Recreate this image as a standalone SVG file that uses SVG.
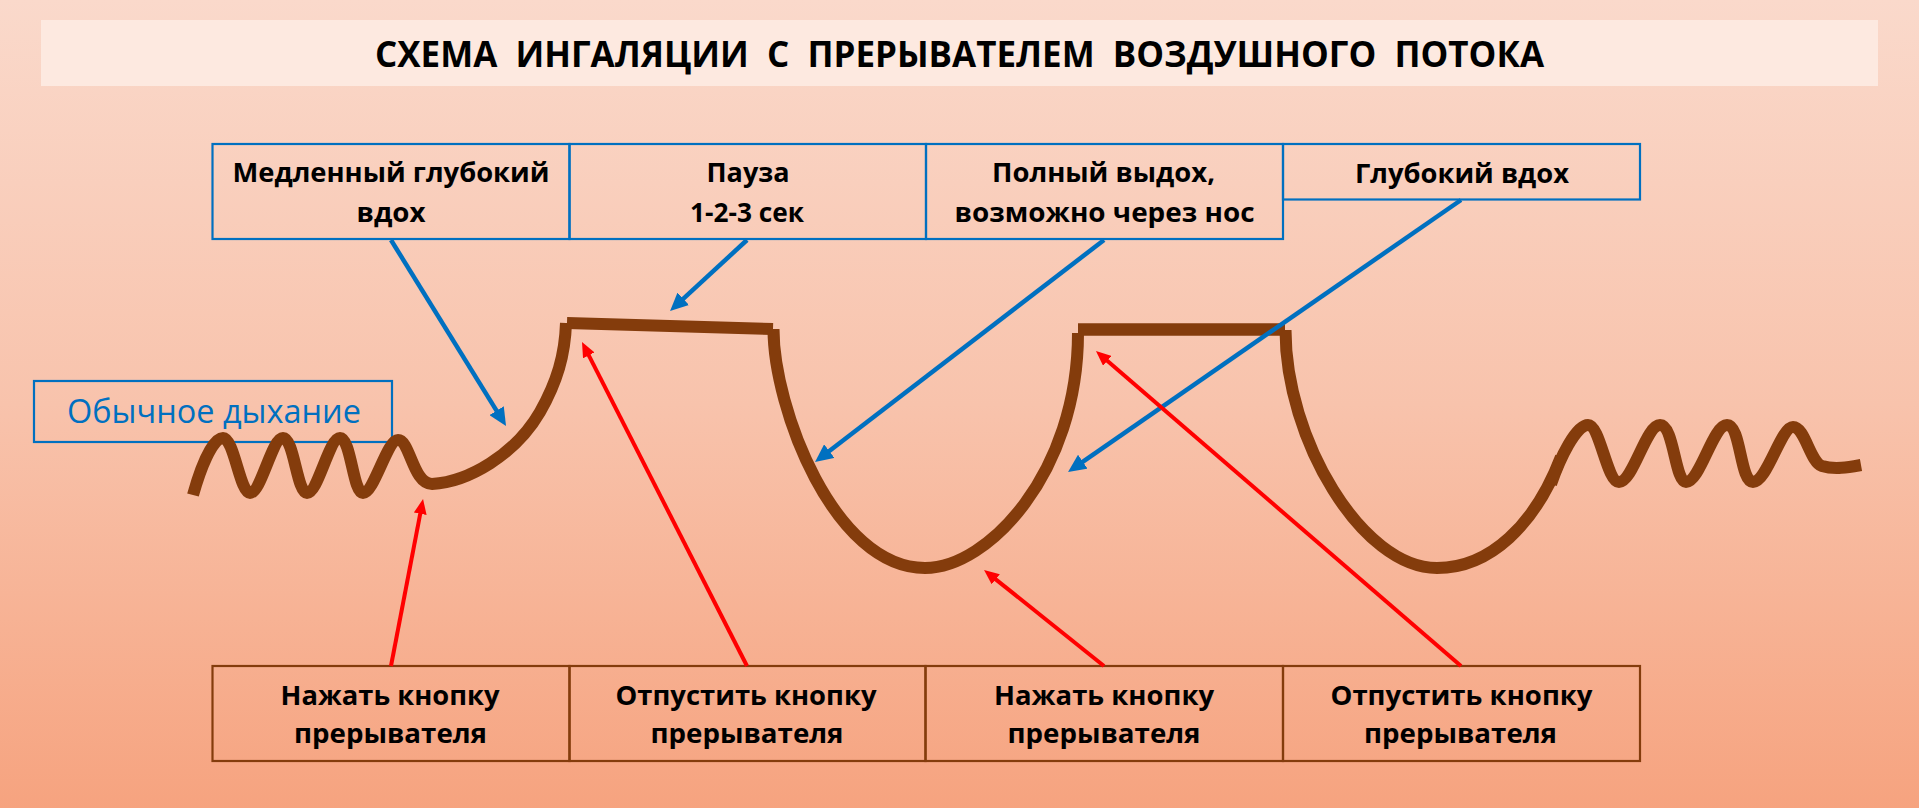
<svg xmlns="http://www.w3.org/2000/svg" width="1919" height="808" viewBox="0 0 1919 808">
<defs>
<linearGradient id="bg" x1="0" y1="0" x2="0" y2="1">
<stop offset="0" stop-color="#FAD9CB"/>
<stop offset="0.5" stop-color="#F8C3AC"/>
<stop offset="1" stop-color="#F6A37F"/>
</linearGradient>
<marker id="ab" markerUnits="userSpaceOnUse" markerWidth="18" markerHeight="17" viewBox="0 0 18 17" refX="2" refY="8.5" orient="auto">
<path d="M0,0 L18,8.5 L0,17 z" fill="#0070C0"/>
</marker>
<marker id="ar" markerUnits="userSpaceOnUse" markerWidth="15" markerHeight="13" viewBox="0 0 15 13" refX="2" refY="6.5" orient="auto">
<path d="M0,0 L15,6.5 L0,13 z" fill="#FF0000"/>
</marker>
</defs>
<style>
.t{font-family:"Open Sans","Noto Sans","Liberation Sans",sans-serif;font-weight:700;font-size:27px;fill:#000;text-anchor:middle}
.bb{fill:none;stroke:#0070C0;stroke-width:2.2}
.br{fill:none;stroke:#843C0C;stroke-width:2.2}
.curve{fill:none;stroke:#843C0C;stroke-width:12;stroke-linejoin:round;stroke-linecap:butt}
.blue{fill:none;stroke:#0070C0;stroke-width:4.5}
.red{fill:none;stroke:#FF0000;stroke-width:4}
</style>
<rect width="1919" height="808" fill="url(#bg)"/>
<g id="title">
<rect x="41" y="20" width="1837" height="66" fill="#FDE9E0"/>
<text x="959.5" y="67" class="t" style="font-size:36px;white-space:pre" xml:space="preserve" textLength="1169" lengthAdjust="spacingAndGlyphs">СХЕМА  ИНГАЛЯЦИИ  С  ПРЕРЫВАТЕЛЕМ  ВОЗДУШНОГО  ПОТОКА</text>
</g>
<g id="top1">
<rect x="212.5" y="144" width="357" height="95" class="bb"/>
<text x="391" y="182" class="t" textLength="317" lengthAdjust="spacingAndGlyphs">Медленный глубокий</text>
<text x="391" y="222" class="t" textLength="69" lengthAdjust="spacingAndGlyphs">вдох</text>
</g>
<g id="top2">
<rect x="569.5" y="144" width="356.5" height="95" class="bb"/>
<text x="748" y="182" class="t" textLength="83" lengthAdjust="spacingAndGlyphs">Пауза</text>
<text x="747" y="222" class="t" textLength="114" lengthAdjust="spacingAndGlyphs">1-2-3 сек</text>
</g>
<g id="top3">
<rect x="926" y="144" width="357" height="95" class="bb"/>
<text x="1103.5" y="182" class="t" textLength="223" lengthAdjust="spacingAndGlyphs">Полный выдох,</text>
<text x="1104.5" y="222" class="t" textLength="300" lengthAdjust="spacingAndGlyphs">возможно через нос</text>
</g>
<g id="top4">
<rect x="1283" y="144" width="357" height="55.5" class="bb"/>
<text x="1462" y="183" class="t" textLength="214" lengthAdjust="spacingAndGlyphs">Глубокий вдох</text>
</g>
<g id="normal">
<rect x="34" y="381" width="358" height="61" class="bb"/>
<text x="214" y="423" style="font-family:'Open Sans','Noto Sans','Liberation Sans',sans-serif;font-size:33px;fill:#0070C0;text-anchor:middle" textLength="294" lengthAdjust="spacingAndGlyphs">Обычное дыхание</text>
</g>
<g id="bot1">
<rect x="212.5" y="666" width="357" height="95" class="br"/>
<text x="390" y="705" class="t" textLength="219" lengthAdjust="spacingAndGlyphs">Нажать кнопку</text>
<text x="390.5" y="743" class="t" textLength="193" lengthAdjust="spacingAndGlyphs">прерывателя</text>
</g>
<g id="bot2">
<rect x="569.5" y="666" width="356" height="95" class="br"/>
<text x="746" y="705" class="t" textLength="261" lengthAdjust="spacingAndGlyphs">Отпустить кнопку</text>
<text x="747" y="743" class="t" textLength="193" lengthAdjust="spacingAndGlyphs">прерывателя</text>
</g>
<g id="bot3">
<rect x="925.5" y="666" width="357.5" height="95" class="br"/>
<text x="1104" y="705" class="t" textLength="220" lengthAdjust="spacingAndGlyphs">Нажать кнопку</text>
<text x="1104" y="743" class="t" textLength="193" lengthAdjust="spacingAndGlyphs">прерывателя</text>
</g>
<g id="bot4">
<rect x="1283" y="666" width="357" height="95" class="br"/>
<text x="1461.5" y="705" class="t" textLength="262" lengthAdjust="spacingAndGlyphs">Отпустить кнопку</text>
<text x="1460.5" y="743" class="t" textLength="193" lengthAdjust="spacingAndGlyphs">прерывателя</text>
</g>
<g id="breathing-curve">
<path class="curve" d="M193,495 C200,470 212,438 223,438 C234,438 240,493 250,493 C261,493 272,438 283,438 C294,438 297,493 307,493 C318,493 329,438 340,438 C351,438 353,493 363,493 C374,493 387,440 398,440 C410,440 413,484 432,484 C468,482 515,455 540,412 C557,382 565,355 566,323"/>
<path class="curve" d="M567,323 L773,329"/>
<path class="curve" d="M773.5,329 C773.5,408 834,568 925,568 C988,568 1078,473 1078,333"/>
<path class="curve" style="stroke-width:12.5" d="M1078,329.5 L1285,329.5"/>
<path class="curve" d="M1285.5,330 C1285.5,439 1362,568 1437,568 C1490,568 1535,525 1561,457"/>
<path class="curve" d="M1551,484 C1560,458 1576,425 1588,425 C1600,425 1607,482 1619,482 C1633,482 1646,425 1660,425 C1674,425 1675,482 1686,482 C1700,482 1713,425 1727,425 C1741,425 1740,482 1753,482 C1767,482 1781,427 1793,427 C1805,427 1810,462 1822,466 C1835,470 1850,467 1861,465"/>
</g>
<g id="connectors">
<line class="blue" x1="391" y1="240" x2="497.6" y2="412.4" marker-end="url(#ab)"/>
<line class="blue" x1="747" y1="240" x2="681.8" y2="300.2" marker-end="url(#ab)"/>
<line class="blue" x1="1104" y1="240" x2="827.7" y2="452.3" marker-end="url(#ab)"/>
<line class="blue" x1="1461" y1="200" x2="1081.2" y2="462.9" marker-end="url(#ab)"/>
<line class="red" x1="391" y1="666" x2="420.6" y2="511.8" marker-end="url(#ar)"/>
<line class="red" x1="747" y1="666" x2="587.9" y2="353.6" marker-end="url(#ar)"/>
<line class="red" x1="1104" y1="666" x2="994.2" y2="578.1" marker-end="url(#ar)"/>
<line class="red" x1="1461" y1="666" x2="1105.8" y2="359.5" marker-end="url(#ar)"/>
</g>
</svg>
